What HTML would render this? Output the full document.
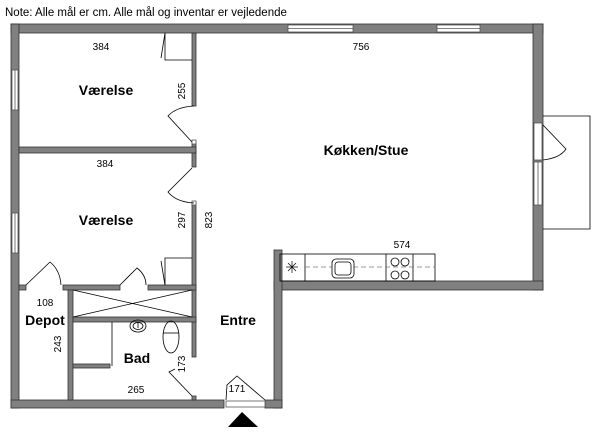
<!DOCTYPE html>
<html><head><meta charset="utf-8"><style>
html,body{margin:0;padding:0;background:#fff;width:600px;height:437px;overflow:hidden}
svg{display:block}
text{font-family:"Liberation Sans",sans-serif;fill:#000}
.b{font-weight:bold;font-size:14px}
.n{font-size:10px}
</style></head><body>
<svg width="600" height="437" viewBox="0 0 600 437" xmlns="http://www.w3.org/2000/svg">
<text x="5" y="16" style="font-size:11.5px">Note: Alle mål er cm. Alle mål og inventar er vejledende</text>
<g fill="#808080" stroke="#333" stroke-width="0.8">
<rect x="11" y="24" width="532" height="9"/>
<rect x="11" y="24" width="8" height="384"/>
<rect x="533" y="24" width="10" height="266"/>
<rect x="274" y="281" width="269" height="9"/>
<rect x="274" y="250" width="8" height="158"/>
<rect x="11" y="400" width="213" height="8"/>
<rect x="265" y="400" width="17" height="8"/>
<rect x="192" y="33" width="4" height="73"/>
<rect x="192" y="142" width="4" height="25"/>
<rect x="192" y="203" width="4" height="154"/>
<rect x="192" y="396" width="4" height="4"/>
<rect x="19" y="147" width="177" height="6"/>
<rect x="19" y="285" width="7" height="5"/>
<rect x="63" y="285" width="57" height="5"/>
<rect x="148" y="285" width="48" height="5"/>
<rect x="68" y="290" width="5" height="110"/>
<rect x="73" y="317" width="123" height="5"/>
<rect x="73" y="364" width="37" height="4"/>
</g>
<g fill="#fff" stroke="#555" stroke-width="0.8">
<rect x="288" y="25" width="65" height="7"/><line x1="288" y1="28.5" x2="353" y2="28.5"/>
<rect x="437" y="25" width="43" height="7"/><line x1="437" y1="28.5" x2="480" y2="28.5"/>
<rect x="12" y="70" width="6" height="40"/><line x1="15" y1="70" x2="15" y2="110"/>
<rect x="12" y="213" width="6" height="40"/><line x1="15" y1="213" x2="15" y2="253"/>
<rect x="534" y="162" width="8" height="43"/><line x1="538" y1="162" x2="538" y2="205"/>
<rect x="534" y="123" width="8" height="37"/>
<rect x="226" y="401" width="39" height="6"/>
<rect x="192" y="140" width="4" height="4"/>
<rect x="192" y="201" width="4" height="4"/>
</g>
<g fill="none" stroke="#000" stroke-width="0.8">
<polyline points="543,116 590,116 590,229 543,229"/>
<path d="M543,125 L566,149 Q560,158 543,160"/>
<path d="M194,106 Q176,107 168,116 L192,142"/>
<path d="M192,168 L168,192 Q176,202 194,203"/>
<polyline points="165,33 165,60 192,60"/><line x1="165" y1="33" x2="161" y2="58"/>
<polyline points="165,285 165,258 192,258"/><line x1="165" y1="285" x2="161" y2="261"/>
<path d="M26,285 L50,262 Q60,270 61,285"/>
<path d="M120,285 L137,268 Q146,275 146,285"/>
<line x1="73" y1="290" x2="192" y2="317"/><line x1="73" y1="317" x2="192" y2="290"/>
<line x1="112" y1="322" x2="112" y2="366"/>
<path d="M192,396 L169,372 L175,369"/>
<path d="M265,400 L237,376 L227,385 L226,400"/>
<ellipse cx="138" cy="326" rx="8" ry="6"/><ellipse cx="138" cy="326" rx="5" ry="3.5"/>
<line x1="138" y1="322" x2="138" y2="328"/>
<ellipse cx="171" cy="337" rx="8" ry="16"/><line x1="163" y1="333" x2="179" y2="333"/>
<rect x="280" y="254" width="155" height="27"/>
<line x1="305" y1="254" x2="305" y2="281"/>
<line x1="386" y1="254" x2="386" y2="281"/>
<line x1="413" y1="254" x2="413" y2="281"/>
<line x1="305" y1="267" x2="435" y2="267" stroke="#777" stroke-dasharray="5,3"/>
<rect x="332" y="259" width="22" height="19" rx="4" fill="#fff"/>
<rect x="335" y="262" width="16" height="13" rx="3"/>
<circle cx="395" cy="262" r="4"/><circle cx="405" cy="262" r="4"/>
<circle cx="395" cy="275" r="4"/><circle cx="405" cy="275" r="4"/>
<g stroke-width="0.7"><line x1="286" y1="267" x2="298" y2="267"/><line x1="292" y1="261" x2="292" y2="273"/><line x1="288" y1="263" x2="296" y2="271"/><line x1="296" y1="263" x2="288" y2="271"/></g>
</g>
<polygon points="242,412 228,427 258,427" fill="#000"/>
<g class="n" text-anchor="middle">
<text x="101" y="50" class="n">384</text>
<text x="105" y="167" class="n">384</text>
<text x="361" y="50" class="n">756</text>
<text x="402" y="248" class="n">574</text>
<text x="45" y="306" class="n">108</text>
<text x="136" y="393" class="n">265</text>
<text x="237" y="392" class="n">171</text>
<text class="n" transform="translate(185,91) rotate(-90)">255</text>
<text class="n" transform="translate(185,220) rotate(-90)">297</text>
<text class="n" transform="translate(212,220) rotate(-90)">823</text>
<text class="n" transform="translate(61,344) rotate(-90)">243</text>
<text class="n" transform="translate(185,364) rotate(-90)">173</text>
</g>
<g text-anchor="middle">
<text x="106" y="95" class="b">Værelse</text>
<text x="106" y="225" class="b">Værelse</text>
<text x="366" y="155" class="b">Køkken/Stue</text>
<text x="45" y="325" class="b">Depot</text>
<text x="137" y="363" class="b">Bad</text>
<text x="238" y="325" class="b">Entre</text>
</g>
</svg>
</body></html>
